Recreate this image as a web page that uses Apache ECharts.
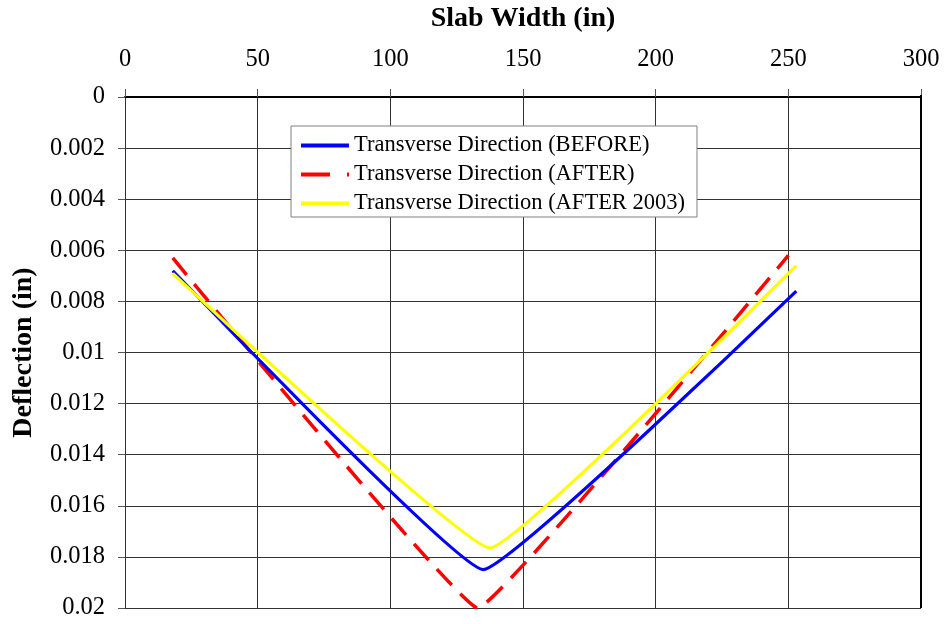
<!DOCTYPE html>
<html><head><meta charset="utf-8">
<script src="https://cdn.jsdelivr.net/npm/echarts@6/dist/echarts.min.js"></script>
<style>html,body{margin:0;padding:0;background:#fff}#c{width:947px;height:624px}</style>
</head><body><div id="c"></div>
<script>
const xTicks = [0, 50, 100, 150, 200, 250, 300];
const yTicks = [0, 0.002, 0.004, 0.006, 0.008, 0.01, 0.012, 0.014, 0.016, 0.018, 0.02];
const seriesNames = ['Transverse Direction (BEFORE)', 'Transverse Direction (AFTER)', 'Transverse Direction (AFTER 2003)'];
const beforeX = [18, 135, 253];
const beforeY = [0.0068, 0.0185, 0.0076];
const afterX = [18, 133, 250];
const afterY = [0.0063, 0.0200, 0.0062];
const after2003X = [18, 137.5, 253];
const after2003Y = [0.0069, 0.01765, 0.0066];

const font = 'Liberation Serif, Times New Roman, serif';
const pairs = (xs, ys) => xs.map((x, i) => [x, ys[i]]);
const chart = echarts.init(document.getElementById('c'), null, {renderer: 'canvas'});
chart.setOption({
  animation: false,
  backgroundColor: '#fff',
  grid: {left: 125, right: 26, top: 95, bottom: 16, show: false},
  legend: {
    orient: 'vertical', left: 291, top: 126,
    backgroundColor: '#fff', borderColor: '#808080', borderWidth: 1,
    padding: [8, 12, 2, 10], itemGap: 6, itemWidth: 48, itemHeight: 14,
    textStyle: {fontFamily: font, fontSize: 22.5, color: '#000', padding: [0, 0, 0, 0]},
    data: [
      {name: seriesNames[0], icon: 'path://M0,0 L48,0 L48,4 L0,4 Z'},
      {name: seriesNames[1], icon: 'path://M0,0 L29,0 L29,4 L0,4 Z M46,0 L48,0 L48,4 L46,4 Z'},
      {name: seriesNames[2], icon: 'path://M0,0 L48,0 L48,4 L0,4 Z'}
    ]
  },
  xAxis: {
    type: 'value', position: 'top', min: 0, max: 300, interval: 50,
    name: 'Slab Width (in)', nameLocation: 'middle', nameGap: 64,
    nameTextStyle: {fontFamily: font, fontSize: 28, fontWeight: 'bold', color: '#000'},
    axisLine: {show: true, lineStyle: {color: '#000', width: 2}},
    axisTick: {show: true, length: 8, lineStyle: {color: '#555', width: 1}},
    axisLabel: {fontFamily: font, fontSize: 24.5, color: '#000', margin: 25,
      formatter: v => xTicks.includes(v) ? String(v) : ''},
    splitLine: {show: true, lineStyle: {color: '#333', width: 1}}
  },
  yAxis: {
    type: 'value', inverse: true, min: 0, max: 0.02, interval: 0.002,
    name: 'Deflection (in)', nameLocation: 'middle', nameGap: 87, nameRotate: 90,
    nameTextStyle: {fontFamily: font, fontSize: 28, fontWeight: 'bold', color: '#000'},
    axisLine: {show: true, lineStyle: {color: '#333', width: 1}},
    axisTick: {show: true, length: 7, lineStyle: {color: '#555', width: 1}},
    axisLabel: {fontFamily: font, fontSize: 24.5, color: '#000', margin: 20,
      formatter: v => { const t = yTicks.find(k => Math.abs(k - v) < 1e-9); return t === undefined ? '' : String(t); }},
    splitLine: {show: true, lineStyle: {color: '#333', width: 1}}
  },
  graphic: [{type: 'line', shape: {x1: 921, y1: 95, x2: 921, y2: 608}, style: {stroke: '#000', lineWidth: 2}, z: 1}],
  series: [
    {name: seriesNames[0], type: 'line', data: pairs(beforeX, beforeY), smooth: 0.08, symbol: 'none',
      lineStyle: {color: '#0000ff', width: 3.2}, itemStyle: {color: '#0000ff'}, z: 3},
    {name: seriesNames[1], type: 'line', data: pairs(afterX, afterY), smooth: 0.06, symbol: 'none',
      lineStyle: {color: '#ff0000', width: 3.5, type: [22, 12]}, itemStyle: {color: '#ff0000'}, z: 2},
    {name: seriesNames[2], type: 'line', data: pairs(after2003X, after2003Y), smooth: 0.08, symbol: 'none',
      lineStyle: {color: '#ffff00', width: 3.2}, itemStyle: {color: '#ffff00'}, z: 4}
  ]
});
</script></body></html>
